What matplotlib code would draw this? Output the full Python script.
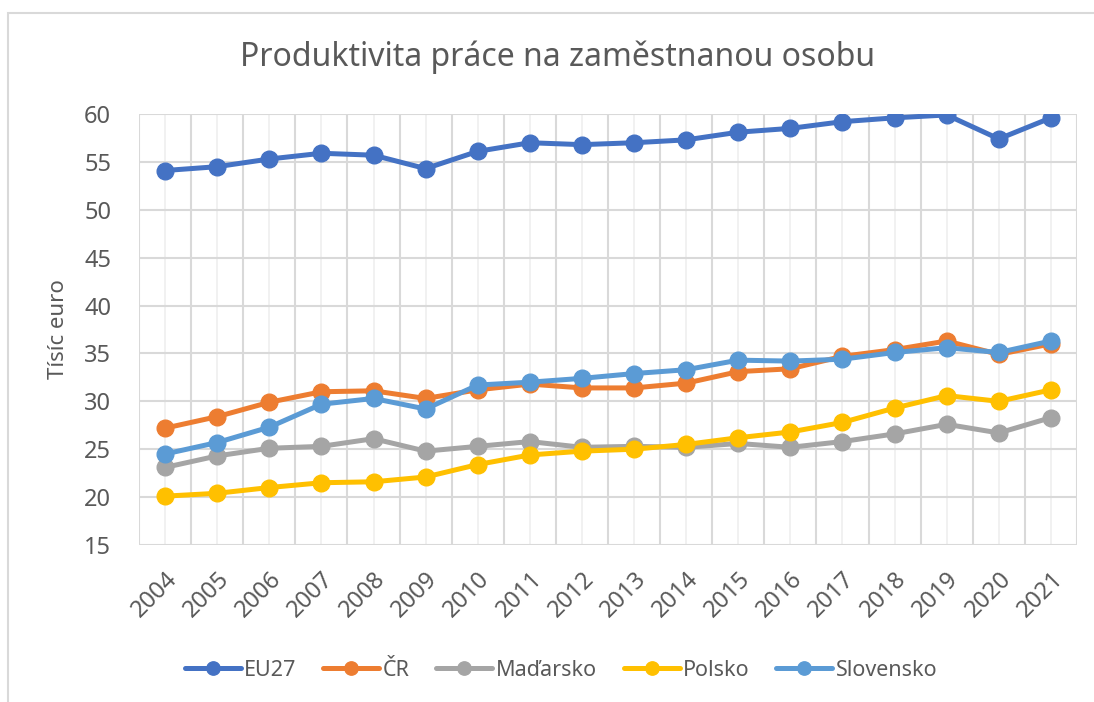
import matplotlib
matplotlib.use("Agg")
import matplotlib.pyplot as plt
from matplotlib.patches import Rectangle
import numpy as np

years = [str(y) for y in range(2004, 2022)]
eu27 = [54.1, 54.5, 55.3, 55.9, 55.7, 54.3, 56.1, 57.0, 56.8, 57.0, 57.3, 58.1, 58.5, 59.2, 59.6, 59.9, 57.4, 59.6]
cr = [27.2, 28.4, 29.9, 31.0, 31.1, 30.3, 31.2, 31.8, 31.4, 31.4, 31.9, 33.1, 33.4, 34.7, 35.4, 36.3, 34.9, 36.0]
madarsko = [23.1, 24.3, 25.1, 25.3, 26.1, 24.8, 25.3, 25.8, 25.2, 25.3, 25.2, 25.6, 25.2, 25.8, 26.6, 27.6, 26.7, 28.3]
polsko = [20.1, 20.4, 21.0, 21.5, 21.6, 22.1, 23.4, 24.4, 24.8, 25.0, 25.5, 26.2, 26.8, 27.8, 29.3, 30.6, 30.0, 31.2]
slovensko = [24.5, 25.7, 27.3, 29.7, 30.3, 29.2, 31.7, 32.0, 32.4, 32.9, 33.3, 34.3, 34.2, 34.4, 35.1, 35.6, 35.1, 36.3]
series_names = ["EU27", "ČR", "Maďarsko", "Polsko", "Slovensko"]
colors = ["#4472C4", "#ED7D31", "#A5A5A5", "#FFC000", "#5B9BD5"]

plt.rcParams['font.family'] = ['Noto Sans', 'DejaVu Sans']
text_color = "#595959"

fig = plt.figure(figsize=(10.94, 7.02), dpi=100)
fig.patches.append(Rectangle((8/1094, -0.1), 1.2, 1.1 - 13/702, transform=fig.transFigure,
                             fill=False, edgecolor="#d9d9d9", linewidth=1.5))
ax = fig.add_axes([139/1094, 1 - 545/702, (1077-139)/1094, (545-114)/702])

x = np.arange(len(years))
# gridlines
for xc in x:
    ax.axvline(xc, color="#efefef", linewidth=1.2, zorder=0)
for xb in np.arange(-0.5, len(years), 1.0):
    ax.axvline(xb, color="#d9d9d9", linewidth=1.5, zorder=0.5)
for yv in range(15, 61, 5):
    ax.axhline(yv, color="#d9d9d9", linewidth=1.5, zorder=0.5)

for name, vals, c in zip(series_names, [eu27, cr, madarsko, polsko, slovensko], colors):
    ax.plot(x, vals, color=c, linewidth=3.6, marker="o", markersize=12,
            label=name, solid_capstyle="round", zorder=3)

ax.set_xlim(-0.5, len(years) - 0.5)
ax.set_ylim(15, 60)
ax.set_yticks(range(15, 61, 5))
ax.set_xticks(x)
ax.set_xticklabels(years, rotation=45, ha="right", va="top", rotation_mode="anchor")
for sp in ax.spines.values():
    sp.set_visible(False)
ax.tick_params(axis="both", length=0, labelsize=17, labelcolor=text_color)
ax.tick_params(axis="y", pad=20)
ax.tick_params(axis="x", pad=16)
ax.set_ylabel("Tísíc euro", fontsize=16, color=text_color, labelpad=11)

fig.text(558/1094, 1 - 57/702, "Produktivita práce na zaměstnanou osobu",
         ha="center", va="center", fontsize=23, color=text_color)

leg = fig.legend(loc="center", bbox_to_anchor=(561/1094, 1 - 670/702), ncol=5,
                 frameon=False, fontsize=15.5, handlelength=2.6, handletextpad=0.15,
                 columnspacing=1.25, labelcolor=text_color, markerscale=0.8)

fig.savefig("out.png", dpi=100)
